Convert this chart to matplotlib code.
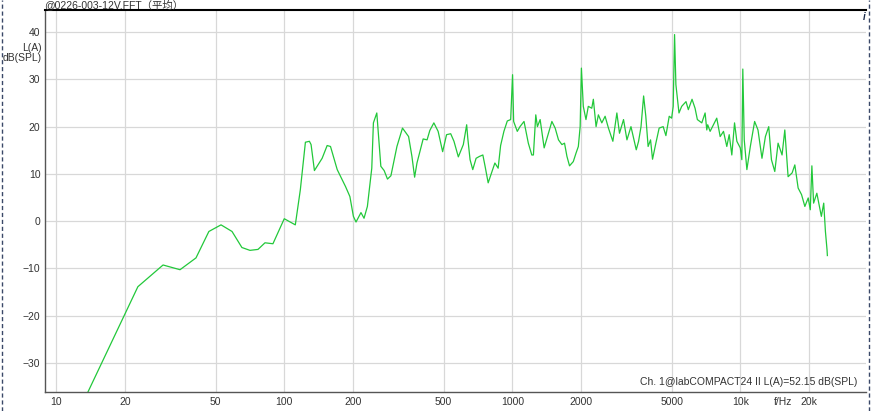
import matplotlib
matplotlib.use("Agg")
import matplotlib.pyplot as plt
from matplotlib.lines import Line2D

# FFT average spectrum, A-weighted level
freq_hz = [
    12.96, 13.77, 22.8, 29.4, 34.9, 41.0, 46.7, 52.8, 59.0, 65.2,
    70.7, 76.7, 82.3, 89.2, 100, 111.8, 117.6, 123.8, 128.9, 131.1,
    135.6, 146.6, 154.2, 159.5, 170.7, 185.7, 194, 201, 206.4, 217,
    223.8, 231.5, 242, 246, 254.6, 265.2, 274.2, 283.6, 293.6, 312,
    330, 351, 363, 373, 382, 406.6, 423, 435, 453, 473,
    495, 515, 537, 555, 580, 610, 631, 638, 653, 671,
    694, 718, 743, 760, 784, 811, 839, 867, 889, 919,
    951, 984, 1003, 1014, 1052, 1081, 1126, 1176, 1218, 1238,
    1268, 1289, 1325, 1380, 1441, 1492, 1542, 1595, 1651, 1695,
    1737, 1783, 1852, 1904, 1949, 1985, 2010, 2049, 2105, 2155,
    2232, 2268, 2331, 2386, 2470, 2554, 2641, 2762, 2876, 2953,
    3076, 3184, 3316, 3498, 3581, 3670, 3768, 3852, 3943, 4041,
    4123, 4264, 4408, 4591, 4719, 4880, 5000, 5080, 5150, 5220,
    5385, 5534, 5781, 5918, 6144, 6334, 6484, 6780, 7011, 7131,
    7197, 7375, 7626, 7886, 8163, 8441, 8728, 8943, 9182, 9438,
    9661, 10000, 10160, 10260, 10410, 10690, 11070, 11560, 11960, 12450,
    12890, 13330, 13700, 14170, 14650, 15250, 15680, 16210, 16880, 17350,
    17940, 18570, 19200, 19860, 20280, 20610, 20970, 21670, 22680, 23230,
    23630, 24020, 24100,
]
level_db = [
    -38.9, -36.2, -13.9, -9.3, -10.3, -7.8, -2.2, -0.8, -2.2, -5.6,
    -6.2, -6.0, -4.6, -4.8, 0.5, -0.8, 6.6, 16.7, 16.9, 16.2,
    10.7, 13.3, 16.0, 15.8, 10.9, 7.3, 5.2, 1.0, -0.2, 1.8,
    0.6, 3.1, 11.2, 20.8, 22.9, 11.6, 10.7, 8.9, 9.6, 15.8,
    19.7, 17.9, 13.7, 9.3, 12.3, 17.4, 17.2, 19.2, 20.8, 19.0,
    14.7, 18.3, 18.5, 16.9, 13.6, 16.2, 20.4, 17.6, 13.0, 10.9,
    13.3, 13.7, 14.0, 11.6, 8.1, 10.2, 12.3, 11.2, 16.0, 19.0,
    21.2, 21.5, 31.0, 21.1, 19.0, 20.0, 21.1, 16.5, 14.0, 14.0,
    22.5, 20.0, 21.5, 15.5, 18.6, 21.1, 19.7, 17.2, 16.2, 16.5,
    13.7, 11.7, 12.6, 14.4, 15.8, 20.0, 32.4, 24.3, 21.5, 24.3,
    23.9, 25.8, 20.0, 22.5, 20.8, 22.2, 19.7, 16.9, 22.9, 18.6,
    21.5, 17.2, 20.0, 15.1, 16.9, 20.0, 26.5, 22.2, 15.8, 17.2,
    13.1, 16.5, 19.7, 20.0, 18.1, 22.2, 21.8, 24.3, 39.5, 28.9,
    22.9, 24.3, 25.3, 23.6, 25.8, 23.9, 21.5, 20.8, 22.9, 19.3,
    20.4, 19.0, 20.4, 21.8, 17.9, 19.0, 15.8, 18.3, 14.0, 20.8,
    16.9, 15.5, 13.0, 32.2, 17.2, 10.9, 15.8, 21.1, 19.3, 13.3,
    17.9, 20.0, 13.0, 10.5, 16.5, 14.0, 19.3, 9.4, 10.2, 11.9,
    7.0, 5.6, 3.1, 4.9, 2.4, 11.7, 3.8, 5.9, 1.0, 3.8,
    -2.2, -6.1, -7.3,
]

x_ticks = [10, 20, 50, 100, 200, 500, 1000, 2000, 5000, 10000, 20000]
x_labels = ["10", "20", "50", "100", "200", "500", "1000", "2000", "5000", "10k", "20k"]
y_ticks = [-30, -20, -10, 0, 10, 20, 30, 40]

title = "@0226-003-12V.FFT（平均）"
info = "Ch. 1@labCOMPACT24 II L(A)=52.15 dB(SPL)"

plt.rcParams["font.family"] = ["Liberation Sans", "Noto Sans CJK SC", "DejaVu Sans"]

fig = plt.figure(figsize=(8.71, 4.11), dpi=100)
ax = fig.add_axes([44.5 / 871, 19 / 411, (866 - 44.5) / 871, (392 - 10.5) / 411])

ax.plot(freq_hz, level_db, color="#22c83a", lw=0.9)

ax.set_xscale("log")
ax.set_xlim(8.88, 35600)
ax.set_ylim(-36.2, 44.6)
ax.set_xticks(x_ticks)
ax.set_xticklabels(x_labels)
ax.minorticks_off()
ax.set_yticks(y_ticks)
ax.tick_params(length=0, labelsize=7.5, colors="#333333")
ax.tick_params(axis="x", pad=3.5)
ax.tick_params(axis="y", pad=3)
ax.grid(True, color="#d8d8d8", lw=0.9)
ax.set_axisbelow(True)

for s in ["left", "bottom"]:
    ax.spines[s].set_color("#555555")
    ax.spines[s].set_linewidth(1.0)
ax.spines["top"].set_color("black")
ax.spines["top"].set_linewidth(1.5)
ax.spines["right"].set_visible(False)

# texts around the plot
fig.text(44 / 871, 1 - 8 / 411, title, fontsize=7.5, color="#333333",
         ha="left", va="baseline")
fig.text(42 / 871, 1 - 48 / 411, "L(A)", fontsize=7.5, color="#333333",
         ha="right", va="center")
fig.text(42 / 871, 1 - 58 / 411, "dB(SPL)", fontsize=7.5, color="#333333",
         ha="right", va="center")
fig.text(792 / 871, 1 - 402 / 411, "f/Hz", fontsize=7.5, color="#333333",
         ha="right", va="center")
fig.text(857 / 871, 1 - 382 / 411, info, fontsize=7.5, color="#333333",
         ha="right", va="center")
fig.text(864 / 871, 1 - 17 / 411, "i", fontsize=7, color="#1a2a4a",
         ha="center", va="center", fontweight="bold", fontstyle="italic")

# dashed page borders
for xb in [1.5, 868.5]:
    fig.add_artist(Line2D([xb / 871, xb / 871], [0, 1], transform=fig.transFigure,
                          color="#3a4868", lw=1.0, ls=(0, (3, 2))))

fig.savefig("out.png", dpi=100)
